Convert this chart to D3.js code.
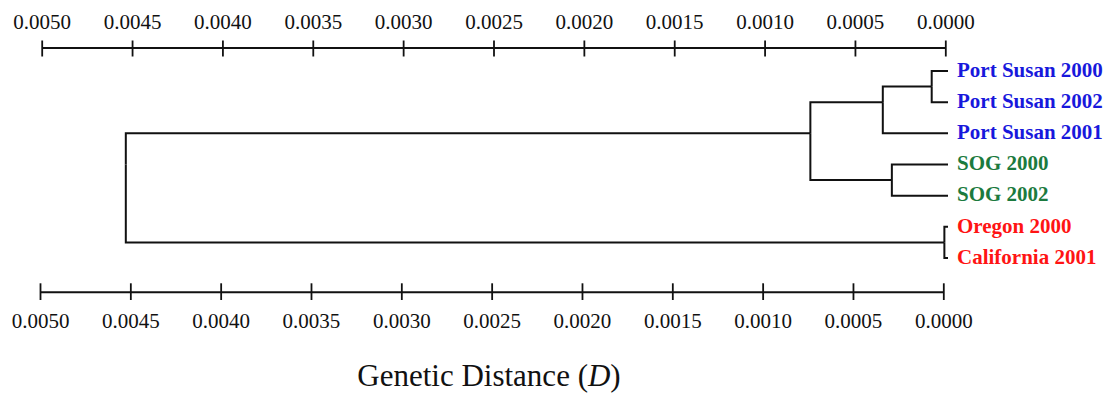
<!DOCTYPE html>
<html>
<head>
<meta charset="utf-8">
<script src="https://cdn.jsdelivr.net/npm/d3@7"></script>
<style>
  body { margin: 0; background: #fff; }
  svg { display: block; font-family: "Liberation Serif", "Times New Roman", serif; }
</style>
</head>
<body>
<svg width="1104" height="403"></svg>
<script>
// leaves, top to bottom
var leaves = ["Port Susan 2000", "Port Susan 2002", "Port Susan 2001",
              "SOG 2000", "SOG 2002", "Oregon 2000", "California 2001"];
var leafGroup = ["Port Susan", "Port Susan", "Port Susan", "SOG", "SOG", "Coast", "Coast"];

// clusters (merge order), their children and joining distance D
var nodeNames    = ["A", "B", "C", "D", "E", "root"];
var nodeChildren = [["Port Susan 2000", "Port Susan 2002"],
                    ["A", "Port Susan 2001"],
                    ["SOG 2000", "SOG 2002"],
                    ["B", "C"],
                    ["Oregon 2000", "California 2001"],
                    ["D", "E"]];
var nodeHeights  = [0.00009, 0.00036, 0.00031, 0.00076, 0.00002, 0.00454];

var tickValues = [0.0050, 0.0045, 0.0040, 0.0035, 0.0030, 0.0025,
                  0.0020, 0.0015, 0.0010, 0.0005, 0.0000];

var groupColor = { "Port Susan": "#1818dc", "SOG": "#1b7a3e", "Coast": "#ff1414" };

var svg = d3.select("svg");

var xTop = d3.scaleLinear().domain([0.005, 0]).range([41.7, 945.3]);
var xBottom = d3.scaleLinear().domain([0.005, 0]).range([40, 943.3]);
var xTree = d3.scaleLinear().domain([0.005, 0]).range([42.5, 948]);
var y = d3.scalePoint().domain(leaves).range([71, 258]);

// build the nested tree from the merge list
var lookup = {};
leaves.forEach(function (name, i) {
    lookup[name] = { name: name, height: 0, group: leafGroup[i] };
});
nodeNames.forEach(function (name, i) {
    lookup[name] = {
        name: name,
        height: nodeHeights[i],
        children: nodeChildren[i].map(function (c) { return lookup[c]; })
    };
});
var root = d3.hierarchy(lookup["root"]);
root.each(function (d) {
    d.px = xTree(d.data.height);
    d.py = d3.mean(d.leaves(), function (l) { return y(l.data.name); });
});

// branches
svg.append("g")
    .selectAll("path")
    .data(root.descendants().filter(function (d) { return d.parent; }))
    .enter()
    .append("path")
    .attr("fill", "none")
    .attr("stroke", "#111")
    .attr("stroke-width", 2)
    .attr("d", function (d) {
        return "M" + d.px + "," + d.py + "H" + d.parent.px + "V" + d.parent.py;
    });

// leaf labels
svg.append("g")
    .selectAll("text")
    .data(root.leaves())
    .enter()
    .append("text")
    .attr("x", function (d) { return d.px + 9; })
    .attr("y", function (d) { return d.py; })
    .attr("dy", "0.27em")
    .attr("font-size", 21)
    .attr("font-weight", "bold")
    .attr("fill", function (d) { return groupColor[d.data.group]; })
    .text(function (d) { return d.data.name; });

// axes
function drawAxis(axis, ypos, up, down, labelY) {
    var g = svg.append("g")
        .attr("transform", "translate(0," + ypos + ")")
        .call(axis.tickValues(tickValues).tickSize(0).tickFormat(d3.format(".4f")));
    g.select(".domain").attr("stroke", "#111").attr("stroke-width", 2);
    g.selectAll(".tick line")
        .attr("stroke", "#111")
        .attr("stroke-width", 1.8)
        .attr("y1", -up)
        .attr("y2", down);
    g.selectAll(".tick text")
        .attr("y", labelY)
        .attr("dy", 0)
        .attr("font-size", 21)
        .attr("font-family", "Liberation Serif, Times New Roman, serif")
        .attr("fill", "#111");
}
drawAxis(d3.axisTop(xTop), 47.5, 7, 9, -18.5);
drawAxis(d3.axisBottom(xBottom), 291.7, 8.4, 8.3, 36.3);

// title
var title = svg.append("text")
    .attr("x", 489)
    .attr("y", 386)
    .attr("text-anchor", "middle")
    .attr("font-size", 31)
    .attr("fill", "#111");
title.append("tspan").text("Genetic Distance (");
title.append("tspan").attr("font-style", "italic").text("D");
title.append("tspan").text(")");
</script>
</body>
</html>
